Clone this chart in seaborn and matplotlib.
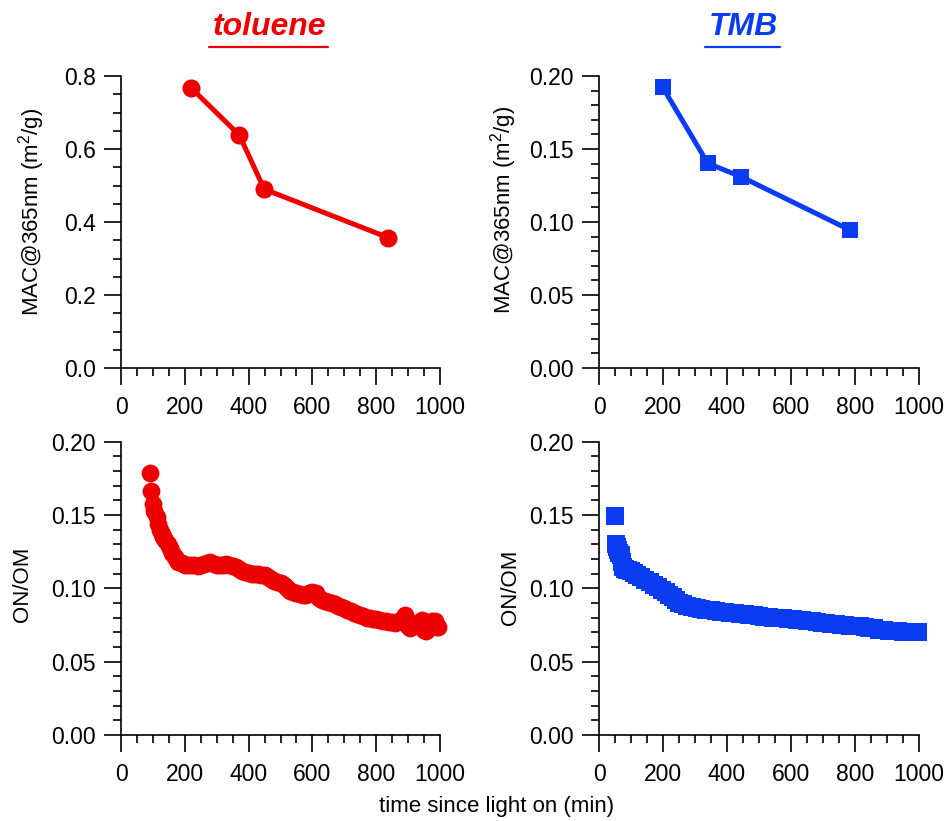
import matplotlib
matplotlib.use("Agg")
import matplotlib.pyplot as plt
from matplotlib.ticker import MultipleLocator, FormatStrFormatter
from matplotlib.lines import Line2D
import seaborn as sns

# ---- data -------------------------------------------------------------
RED = "#ee0000"
BLUE = "#0a3cf2"

# MAC at 365 nm (m2/g) vs. time since light on (min)
tol_mac_time = [219, 371, 449, 838]
tol_mac = [0.768, 0.638, 0.490, 0.357]

tmb_mac_time = [199, 340, 444, 784]
tmb_mac = [0.1923, 0.1402, 0.1310, 0.0945]

# ON/OM ratio, toluene
tol_onom_time = [
    91, 93, 101, 104, 112, 117, 122, 128, 133, 138, 146, 154, 161, 169, 175,
    180, 190, 200, 210, 220, 230, 240, 250, 260, 270, 280, 290, 300, 310, 320,
    330, 340, 350, 360, 370, 380, 390, 400, 410, 420, 430, 440, 450, 460, 470,
    480, 490, 500, 510, 520, 530, 540, 550, 560, 570, 580, 590, 600, 610, 620,
    630, 640, 650, 660, 670, 680, 690, 700, 710, 720, 730, 740, 750, 760, 770,
    780, 790, 800, 810, 820, 830, 840, 850, 860, 870, 880, 890, 900, 905, 915,
    925, 935, 945, 950, 955, 965, 975, 985, 990, 995,
]
tol_onom = [
    0.1789, 0.1666, 0.1575, 0.1530, 0.1489, 0.1440, 0.1398, 0.1370, 0.1350,
    0.1330, 0.1300, 0.1273, 0.1240, 0.1216, 0.1190, 0.1180, 0.1170, 0.1162,
    0.1158, 0.1160, 0.1157, 0.1155, 0.1158, 0.1165, 0.1170, 0.1178, 0.1168,
    0.1162, 0.1160, 0.1158, 0.1163, 0.1160, 0.1155, 0.1145, 0.1130, 0.1120,
    0.1112, 0.1105, 0.1100, 0.1098, 0.1095, 0.1090, 0.1088, 0.1080, 0.1065,
    0.1050, 0.1042, 0.1035, 0.1020, 0.1000, 0.0980, 0.0972, 0.0968, 0.0960,
    0.0955, 0.0958, 0.0965, 0.0975, 0.0965, 0.0935, 0.0920, 0.0912, 0.0905,
    0.0898, 0.0890, 0.0880, 0.0872, 0.0865, 0.0855, 0.0845, 0.0835, 0.0825,
    0.0818, 0.0810, 0.0800, 0.0795, 0.0790, 0.0788, 0.0782, 0.0778, 0.0775,
    0.0770, 0.0768, 0.0762, 0.0775, 0.0790, 0.0815, 0.0745, 0.0727, 0.0760,
    0.0750, 0.0772, 0.0782, 0.0716, 0.0712, 0.0740, 0.0778, 0.0775, 0.0735,
    0.0738,
]

# ON/OM ratio, TMB
tmb_onom_time = [
    49, 54, 57, 60, 63, 68, 72, 75, 80, 86, 91, 100, 110, 120, 132, 145, 160,
    172, 184, 196, 208, 218, 230, 240, 249, 262, 275, 291, 305, 320, 335, 350,
    365, 380, 395, 410, 425, 440, 455, 470, 485, 500, 515, 530, 545, 560, 575,
    590, 605, 620, 635, 650, 665, 680, 697, 710, 725, 740, 755, 770, 785, 801,
    815, 830, 843, 858, 874, 890, 905, 920, 935, 950, 965, 980, 997,
]
tmb_onom = [
    0.1490, 0.1300, 0.1280, 0.1260, 0.1240, 0.1225, 0.1180, 0.1145, 0.1135,
    0.1128, 0.1123, 0.1115, 0.1105, 0.1093, 0.1077, 0.1060, 0.1040, 0.1025,
    0.1010, 0.0992, 0.0972, 0.0957, 0.0938, 0.0918, 0.0900, 0.0890, 0.0882,
    0.0873, 0.0866, 0.0860, 0.0855, 0.0850, 0.0846, 0.0842, 0.0837, 0.0834,
    0.0831, 0.0828, 0.0825, 0.0821, 0.0816, 0.0810, 0.0806, 0.0803, 0.0800,
    0.0798, 0.0796, 0.0793, 0.0790, 0.0787, 0.0783, 0.0780, 0.0777, 0.0773,
    0.0765, 0.0762, 0.0758, 0.0755, 0.0752, 0.0749, 0.0746, 0.0742, 0.0740,
    0.0737, 0.0730, 0.0727, 0.0718, 0.0715, 0.0712, 0.0710, 0.0708, 0.0705,
    0.0703, 0.0702, 0.0702,
]

x_ticks = [0, 200, 400, 600, 800, 1000]

# ---- style ------------------------------------------------------------
sns.set_theme(style="ticks")
plt.rcParams["font.family"] = ["Liberation Sans", "DejaVu Sans"]
plt.rcParams["mathtext.fontset"] = "custom"
plt.rcParams["mathtext.rm"] = "Liberation Sans"
plt.rcParams["mathtext.it"] = "Liberation Sans:italic"

FS = 16       # axis titles
TICK_FS = 16.5

W, H = 949, 821
fig = plt.figure(figsize=(W / 100, H / 100), dpi=100)


def px_axes(x0, x1, ytop, ybot):
    return fig.add_axes([x0 / W, 1 - ybot / H, (x1 - x0) / W, (ybot - ytop) / H])


ax_tl = px_axes(121, 440, 76, 368)
ax_tr = px_axes(599, 919, 76, 368)
ax_bl = px_axes(121, 440, 441.7, 735)
ax_br = px_axes(599, 919, 441.7, 735)

# top row: MAC lines with markers
sns.lineplot(x=tol_mac_time, y=tol_mac, ax=ax_tl, color=RED, marker="o",
             markersize=13, markeredgewidth=0, linewidth=3.6)
sns.lineplot(x=tmb_mac_time, y=tmb_mac, ax=ax_tr, color=BLUE, marker="s",
             markersize=12, markeredgewidth=0, linewidth=3.6)

# bottom row: ON/OM scatter
sns.scatterplot(x=tol_onom_time, y=tol_onom, ax=ax_bl, color=RED, marker="o",
                s=165, linewidth=0, alpha=1)
sns.scatterplot(x=tmb_onom_time, y=tmb_onom, ax=ax_br, color=BLUE, marker="s",
                s=160, linewidth=0, alpha=1)

mac_label = r"MAC@365nm (m$^{2}$/g)"

settings = [
    (ax_tl, 0.8, 0.2, 0.05, "%.1f", mac_label, (-0.232, 0.533)),
    (ax_tr, 0.2, 0.05, 0.01, "%.2f", mac_label, (-0.25, 0.541)),
    (ax_bl, 0.2, 0.05, 0.01, "%.2f", "ON/OM", (-0.276, 0.515)),
    (ax_br, 0.2, 0.05, 0.01, "%.2f", "ON/OM", (-0.244, 0.505)),
]

for ax, ymax, ymaj, ymin, fmt, ylab, lab_xy in settings:
    ax.set_xlim(0, 1000)
    ax.set_ylim(0, ymax)
    ax.set_xticks(x_ticks)
    ax.xaxis.set_minor_locator(MultipleLocator(50))
    ax.yaxis.set_major_locator(MultipleLocator(ymaj))
    ax.yaxis.set_minor_locator(MultipleLocator(ymin))
    ax.yaxis.set_major_formatter(FormatStrFormatter(fmt))
    for side in ("top", "right"):
        ax.spines[side].set_visible(False)
    for side in ("left", "bottom"):
        ax.spines[side].set_linewidth(1.2)
        ax.spines[side].set_color("black")
    ax.tick_params(which="major", direction="out", length=12, width=1.2,
                   color="black", labelsize=TICK_FS, labelcolor="black")
    ax.tick_params(which="minor", direction="out", length=6, width=1.2,
                   color="black")
    ax.tick_params(axis="x", which="major", pad=8)
    ax.tick_params(axis="y", which="major", pad=6)
    ax.set_xlabel("")
    ax.set_ylabel(ylab, fontsize=FS, color="black")
    ax.yaxis.set_label_coords(*lab_xy)
    ax.patch.set_alpha(0)
    for art in ax.collections + ax.lines:
        art.set_clip_on(False)

# panel headings with underline
for text, color, xc, ux0, ux1 in [
    ("toluene", RED, 269, 209, 328),
    ("TMB", BLUE, 743, 705, 780),
]:
    fig.text(xc / W, 1 - 35 / H, text, color=color, fontsize=23,
             fontweight="bold", fontstyle="italic", ha="center", va="baseline")
    fig.add_artist(Line2D([ux0 / W, ux1 / W], [1 - 46.7 / H, 1 - 46.7 / H],
                          transform=fig.transFigure, color=color, linewidth=1.6))

fig.text(497 / W, 1 - 806 / H, "time since light on (min)", fontsize=FS,
         ha="center", va="center", color="black")

fig.savefig("out.png", dpi=100, facecolor="white")
